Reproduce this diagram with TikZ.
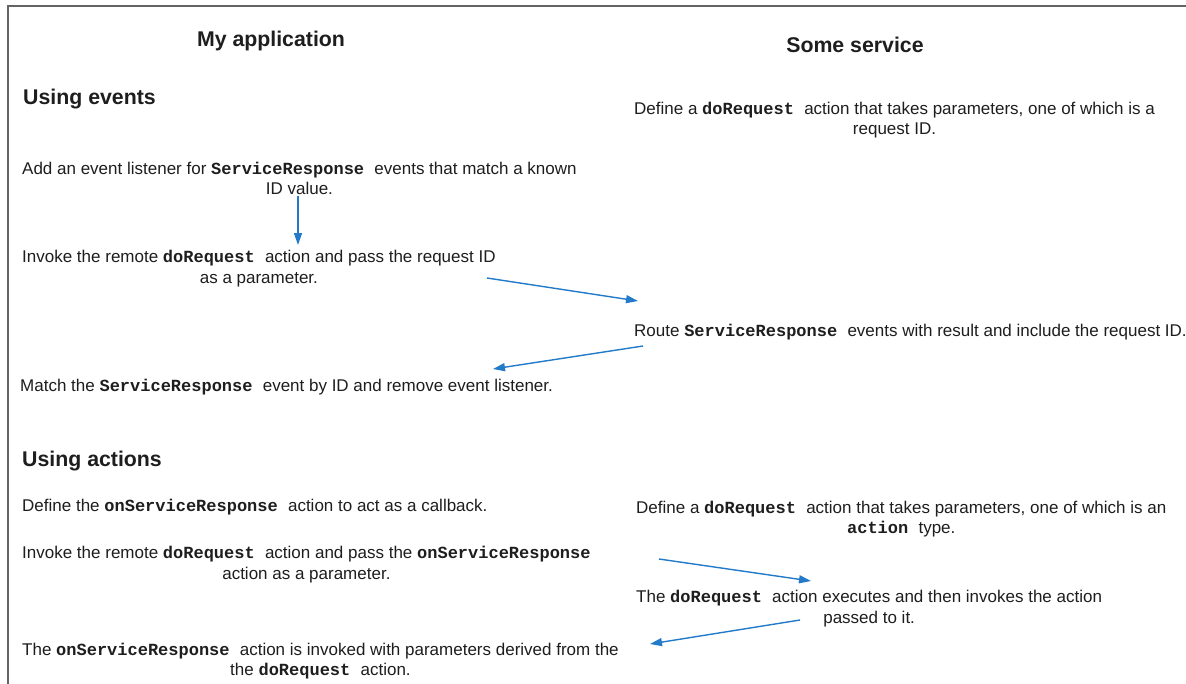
\documentclass[tikz,border=0pt]{standalone}
\usepackage{fontspec}
\setmainfont{Liberation Sans}
\setmonofont{Liberation Mono}
\usetikzlibrary{arrows.meta}
\definecolor{txtc}{RGB}{30,30,30}
\definecolor{arrc}{RGB}{35,122,200}
\definecolor{framec}{RGB}{100,100,100}
\newcommand\mono[1]{\textbf{\texttt{#1}}}
\tikzset{
  txt/.style={inner sep=0pt, anchor=west, align=center, text=txtc,
    font=\fontsize{17}{20.5}\selectfont},
  head/.style={inner sep=0pt, text=txtc, font=\fontsize{21.3}{25}\selectfont\bfseries},
  flow/.style={draw=arrc, line width=1.4pt, -{Triangle[length=12pt,width=8pt]}},
  frame/.style={draw=framec, line width=2.5pt}
}
\begin{document}
\begin{tikzpicture}[x=1pt,y=-1pt]
\useasboundingbox (0,0) rectangle (1186,683);
\fill[white] (0,0) rectangle (1186,683);
\draw[frame] (8,690) -- (8,6) -- (1195,6);

\node[head] (app) at (271,40.5) {My application};
\node[head] (svc) at (855,44.5) {Some service};
\node[head, anchor=west] (evh) at (23,99.5) {Using events};

\node[txt] (s1) at (634,120) {Define a \mono{doRequest }action that takes parameters, one of which is a\\request ID.};
\node[txt] (a1) at (22,178.5) {Add an event listener for \mono{ServiceResponse }events that match a known\\ID value.};
\node[txt] (a2) at (22,268.5) {Invoke the remote \mono{doRequest }action and pass the request ID\\as a parameter.};
\node[txt] (s2) at (634,332.5) {Route \mono{ServiceResponse }events with result and include the request ID.};
\node[txt] (a3) at (20,387.5) {Match the \mono{ServiceResponse }event by ID and remove event listener.};

\node[head, anchor=west] (ach) at (22,461.5) {Using actions};
\node[txt] (b1) at (22,507.5) {Define the \mono{onServiceResponse }action to act as a callback.};
\node[txt] (t1) at (636,519) {Define a \mono{doRequest }action that takes parameters, one of which is an\\\mono{action }type.};
\node[txt] (b2) at (22,564.5) {Invoke the remote \mono{doRequest }action and pass the \mono{onServiceResponse}\\action as a parameter.};
\node[txt] (t2) at (636,608.5) {The \mono{doRequest }action executes and then invokes the action\\passed to it.};
\node[txt] (b3) at (22,661) {The \mono{onServiceResponse }action is invoked with parameters derived from the\\the \mono{doRequest }action.};

\coordinate (p1s) at (298,196);
\coordinate (p1e) at (298,245);
\coordinate (p2s) at (487,278);
\coordinate (p2e) at (638,301);
\coordinate (p3s) at (643,346);
\coordinate (p3e) at (493,369);
\coordinate (p4s) at (659,559);
\coordinate (p4e) at (811,581);
\coordinate (p5s) at (800,620);
\coordinate (p5e) at (650,644);

\draw[flow] (p1s) -- (p1e);
\draw[flow] (p2s) -- (p2e);
\draw[flow] (p3s) -- (p3e);
\draw[flow] (p4s) -- (p4e);
\draw[flow] (p5s) -- (p5e);
\end{tikzpicture}
\end{document}
